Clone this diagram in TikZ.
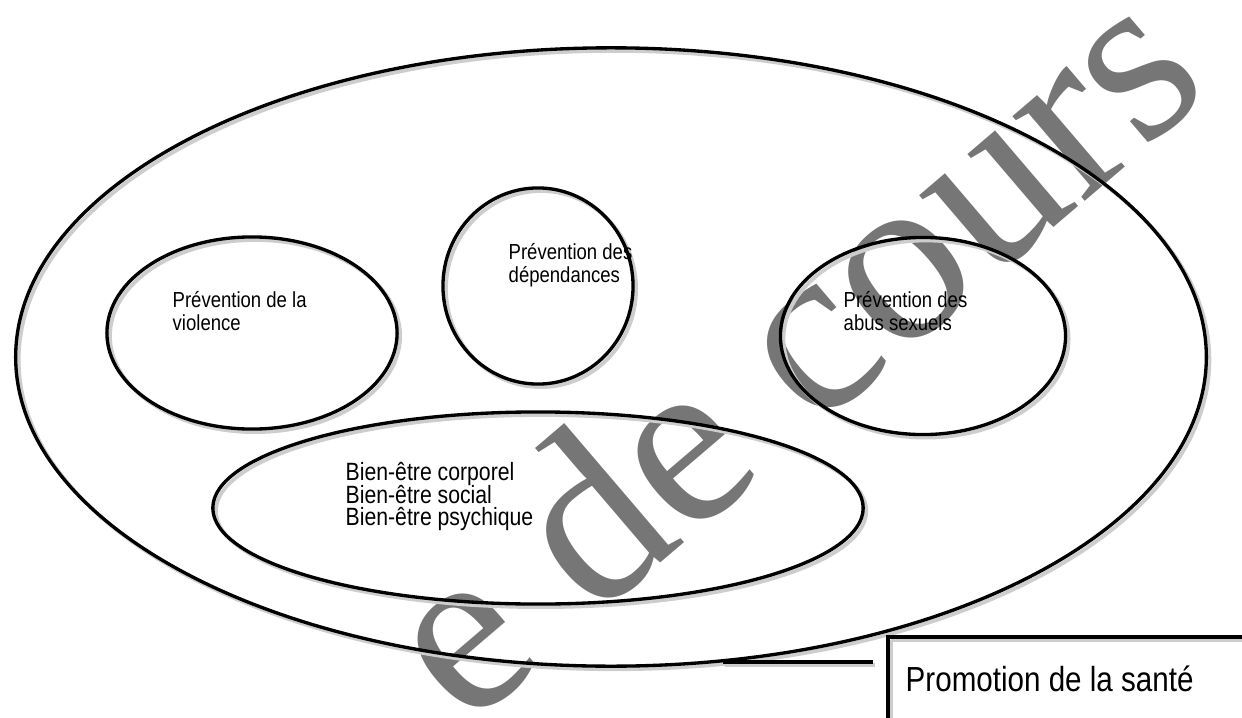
\documentclass[tikz,border=0pt]{standalone}
\usepackage{fontspec}
\setmainfont{Liberation Sans}[FakeStretch=0.85]
\newfontfamily\wmfont{Liberation Serif}
\usetikzlibrary{shapes.geometric}
\definecolor{wmgray}{RGB}{118,118,118}
\definecolor{shadowgray}{RGB}{205,205,205}
\newcommand\mytightlines{\lineskiplimit=-10pt\relax\lineskip=0pt\relax}
\tikzset{
  oval/.style={ellipse, draw=black, line width=0.95pt, inner sep=0pt},
  ovalshadow/.style={ellipse, draw=shadowgray, line width=1.1pt, inner sep=0pt},
  lbl/.style={anchor=north west, inner sep=0pt, align=left, font=\fontsize{6.2}{6.6}\selectfont\mytightlines},
  lblbig/.style={anchor=north west, inner sep=0pt, align=left, font=\fontsize{7.1}{6.3}\selectfont\mytightlines},
  lblbox/.style={anchor=north west, inner sep=0pt, font=\fontsize{9.9}{11}\selectfont},
  rule/.style={line width=0.95pt, draw=black},
  ruleshadow/.style={line width=1.1pt, draw=shadowgray}
}
\begin{document}
\begin{tikzpicture}[x=0.01cm,y=-0.01cm]
\useasboundingbox (0,0) rectangle (1242,718);
\clip (0,0) rectangle (1242,718);
% watermark
\node[rotate=40.5, anchor=base east, inner sep=0pt, text=wmgray, font=\wmfont\fontsize{69}{69}\selectfont] (wm) at (1215,90) {e de cours};
% shadows
\node[ovalshadow, minimum width=11.9cm, minimum height=6.18cm] at (614,360) {};
\node[ovalshadow, minimum width=2.9cm, minimum height=1.92cm] at (255,336) {};
\node[ovalshadow, minimum width=1.9cm, minimum height=1.96cm] at (541,289) {};
\node[ovalshadow, minimum width=2.85cm, minimum height=1.97cm] at (926,339) {};
\node[ovalshadow, minimum width=6.5cm, minimum height=1.92cm] at (541,511) {};
\draw[ruleshadow] (725,665) -- (875,665);
\draw[ruleshadow] (891,640) -- (1250,640) (891,640) -- (891,730);
% shapes
\node[oval, minimum width=11.9cm, minimum height=6.18cm] (outer) at (611,357) {};
\node[oval, minimum width=2.9cm, minimum height=1.92cm] (violence) at (252,333) {};
\node[oval, minimum width=1.9cm, minimum height=1.96cm] (dependances) at (538,286) {};
\node[oval, minimum width=2.85cm, minimum height=1.97cm] (abus) at (923,336) {};
\node[oval, minimum width=6.5cm, minimum height=1.92cm] (bienetre) at (538,508) {};
\coordinate (linea) at (723,662);
\coordinate (lineb) at (873,662);
\draw[rule] (linea) -- (lineb);
\coordinate (boxa) at (888,637);
\draw[rule] (888,740) -- (boxa) -- (1250,637);
% texts
\node[lbl] (t1) at (172,291) {Prévention de la\\violence};
\node[lbl] (t2) at (508,243) {Prévention des\\dépendances};
\node[lbl] (t3) at (843,291) {Prévention des\\abus sexuels};
\node[lblbig] (t4) at (345,462) {Bien-être corporel\\Bien-être social\\Bien-être psychique};
\node[lblbox] (t5) at (905,665) {Promotion de la santé};
\end{tikzpicture}
\end{document}
